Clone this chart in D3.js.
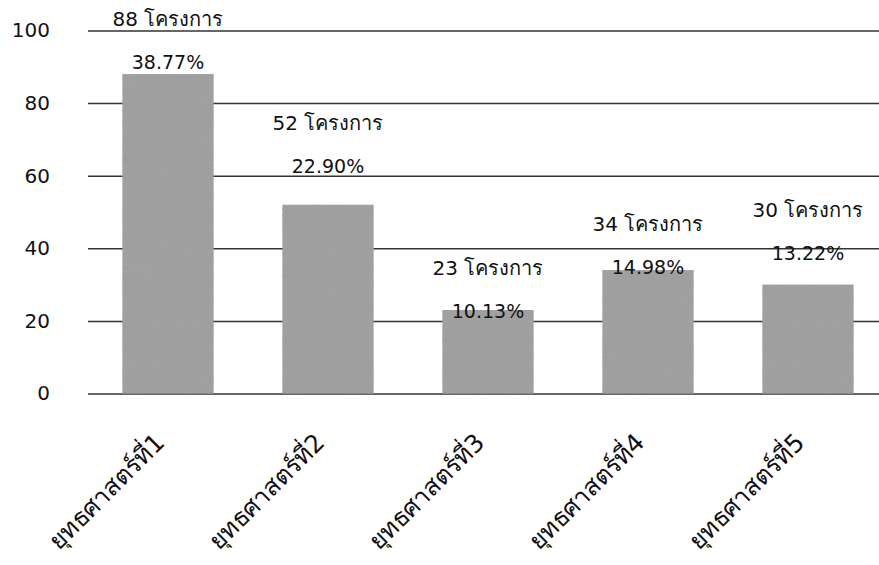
<!DOCTYPE html>
<html>
<head>
<meta charset="utf-8">
<script src="https://cdn.jsdelivr.net/npm/d3@7"></script>
<style>
  body { margin: 0; background: #fff; }
  text { font-family: "DejaVu Sans", Tahoma, sans-serif; fill: #111; }
</style>
</head>
<body>
<svg id="chart" width="879" height="565"></svg>
<script>
const categories = ["ยุทธศาสตร์ที่1", "ยุทธศาสตร์ที่2", "ยุทธศาสตร์ที่3", "ยุทธศาสตร์ที่4", "ยุทธศาสตร์ที่5"]
const projects = [88, 52, 23, 34, 30]
const percents = ["38.77%", "22.90%", "10.13%", "14.98%", "13.22%"]
const yTicks = [0, 20, 40, 60, 80, 100]
// labels were placed by hand in the original, px above the bar top
const labelLift = [5, 32, -8, -4, 25]

const svg = d3.select("#chart")

const x = d3.scaleBand()
    .domain(categories)
    .range([88, 888])
    .paddingInner(0.43)
    .paddingOuter(0.215)

const y = d3.scaleLinear()
    .domain([0, 100])
    .range([393.5, 30.5])

// grainy grey fill like the scanned bars
const defs = svg.append("defs")
const filter = defs.append("filter").attr("id", "grain")
    .attr("x", 0).attr("y", 0).attr("width", 1).attr("height", 1)
filter.append("feTurbulence")
    .attr("type", "fractalNoise")
    .attr("baseFrequency", 1.2)
    .attr("numOctaves", 2)
    .attr("seed", 3)
    .attr("result", "noise")
filter.append("feColorMatrix")
    .attr("in", "noise")
    .attr("type", "matrix")
    .attr("values", "0 0 0 0 0.35  0 0 0 0 0.35  0 0 0 0 0.35  3 0 0 0 -1.3")
    .attr("result", "dots")
filter.append("feComposite")
    .attr("in", "dots")
    .attr("in2", "SourceGraphic")
    .attr("operator", "in")
    .attr("result", "clipped")
filter.append("feMerge").selectAll("feMergeNode")
    .data(["SourceGraphic", "clipped"])
    .enter().append("feMergeNode")
    .attr("in", d => d)

// gridlines + y labels
const yAxis = svg.append("g")
    .attr("transform", "translate(88,0)")
    .call(d3.axisLeft(y).tickValues(yTicks).tickSize(-(879 - 88)).tickPadding(38).tickFormat(d3.format("d")))
yAxis.select(".domain").remove()
yAxis.selectAll(".tick line")
    .attr("stroke", "#333")
    .attr("stroke-width", 1.5)
yAxis.selectAll(".tick text")
    .style("font-size", "20px")
    .attr("fill", "#111")

// bars
svg.append("g")
    .selectAll("rect")
    .data(projects)
    .enter()
    .append("rect")
    .attr("x", (d, i) => x(categories[i]))
    .attr("y", d => y(d))
    .attr("width", x.bandwidth())
    .attr("height", d => y(0) - y(d))
    .attr("fill", "#a0a0a0")
    .attr("filter", "url(#grain)")

// value labels
const labels = svg.append("g")
    .attr("text-anchor", "middle")
    .style("font-size", "19px")
projects.forEach((d, i) => {
    const cx = x(categories[i]) + x.bandwidth() / 2
    const base = y(d) - labelLift[i]
    labels.append("text")
        .attr("x", cx)
        .attr("y", base)
        .text(percents[i])
    labels.append("text")
        .attr("x", cx)
        .attr("y", base - 43)
        .style("font-size", "20px")
        .text(d + " โครงการ")
})

// rotated category labels
svg.append("g")
    .selectAll("text")
    .data(categories)
    .enter()
    .append("text")
    .attr("transform", d => "translate(" + (x(d) + x.bandwidth() / 2 - 2) + ",444) rotate(-45)")
    .attr("text-anchor", "end")
    .style("font-size", "25px")
    .text(d => d)
</script>
</body>
</html>
